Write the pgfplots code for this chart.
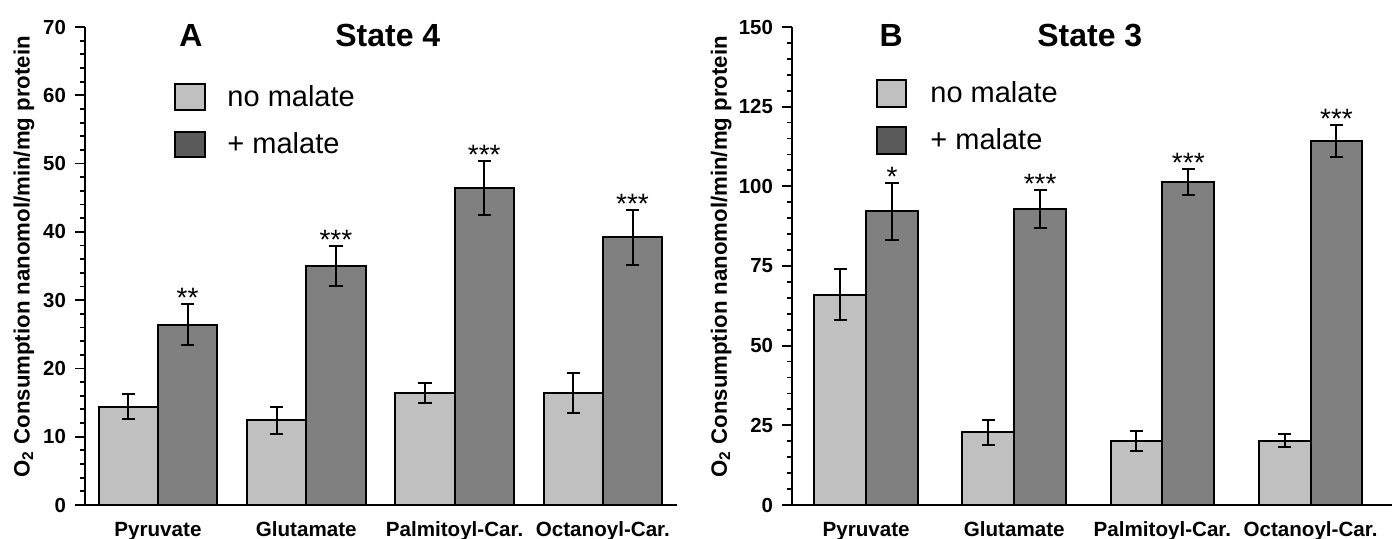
\documentclass[border=0pt]{standalone}
\usepackage{fontspec}
\setmainfont{Liberation Sans}
\usepackage{pgfplots}
\pgfplotsset{compat=1.18}
\definecolor{lightbar}{HTML}{C0C0C0}
\definecolor{darkbar}{HTML}{808080}
\definecolor{darkleg}{HTML}{5A5A5A}
\tikzset{starlbl/.style={anchor=base, font=\fontsize{14}{16}\selectfont, inner sep=0pt, yshift=-1.8pt}}
\pgfplotsset{
  panel/.style={
    scale only axis, height=239pt,
    axis x line=bottom, axis y line=left,
    axis line style={-, line width=1pt, black},
    ymin=0, clip=false,
    xtick={1,2,3,4},
    xticklabels={Pyruvate,Glutamate,Palmitoyl-Car.,Octanoyl-Car.},
    x tick style={draw=none},
    x tick label style={font=\fontsize{10.3}{12}\selectfont\bfseries, anchor=base, yshift=-11pt},
    y tick label style={font=\fontsize{10.2}{12}\selectfont\bfseries, xshift=-1pt},
    /pgf/number format/assume math mode=true,
    tick align=outside,
    major tick length=5pt, minor tick length=2.6pt,
    y tick style={line width=0.9pt, black},
    ylabel={O\textsubscript{2} Consumption nanomol/min/mg protein},
    ylabel style={font=\fontsize{11.1}{13}\selectfont\bfseries, anchor=center},
  },
  barbase/.style={ybar, bar shift=0pt, draw=black, line width=1pt,
    error bars/y dir=both, error bars/y explicit,
    error bars/error bar style={line width=1pt, black},
    error bars/error mark options={rotate=90, mark size=3.3pt, line width=1pt, black}},
}
\begin{document}
\begin{tikzpicture}
\path[use as bounding box] (-42.5pt,-17pt) rectangle (655pt,252.5pt);
% Panel A
\begin{axis}[panel, width=296pt, xmin=0.508, xmax=4.5,
  ymax=70, ytick={0,10,...,70}, minor y tick num=4,
  ylabel style={at={(axis description cs:-0.103,0.519)}}]
\addplot[barbase, fill=lightbar, bar width=0.4] coordinates {
  (0.8,14.4) +- (0,1.8)
  (1.8,12.4) +- (0,2.0)
  (2.8,16.4) +- (0,1.5)
  (3.8,16.4) +- (0,3.0)};
\addplot[barbase, fill=darkbar, bar width=0.4] coordinates {
  (1.2,26.4) +- (0,3.0)
  (2.2,35.0) +- (0,3.0)
  (3.2,46.4) +- (0,4.0)
  (4.2,39.2) +- (0,4.0)};
\node[starlbl] at (axis cs:1.2,29.4) {**};
\node[starlbl] at (axis cs:2.2,38.0) {***};
\node[starlbl] at (axis cs:3.2,50.4) {***};
\node[starlbl] at (axis cs:4.2,43.2) {***};
\node[anchor=base, font=\fontsize{16}{18}\selectfont\bfseries] at (axis cs:1.223,67.1) {A};
\node[anchor=base, font=\fontsize{16}{18}\selectfont\bfseries] at (axis cs:2.55,67.1) {State 4};
\draw[fill=lightbar, line width=0.9pt] (rel axis cs:0.152,0.826) rectangle (rel axis cs:0.203,0.881);
\draw[fill=darkleg, line width=0.9pt] (rel axis cs:0.152,0.728) rectangle (rel axis cs:0.203,0.780);
\node[anchor=base west, inner sep=0pt, font=\fontsize{14.5}{16}\selectfont] at (rel axis cs:0.240,0.833) {no malate};
\node[anchor=base west, inner sep=0pt, font=\fontsize{14.5}{16}\selectfont] at (rel axis cs:0.240,0.736) {+ malate};
\end{axis}
% Panel B
\begin{axis}[panel, xshift=353.5pt, width=300pt, xmin=0.5, xmax=4.55,
  ymax=150, ytick={0,25,...,150}, minor y tick num=4,
  ylabel style={at={(axis description cs:-0.118,0.519)}}]
\addplot[barbase, fill=lightbar, bar width=0.35] coordinates {
  (0.825,66.0) +- (0,8.0)
  (1.825,22.8) +- (0,4.0)
  (2.825,20.1) +- (0,3.1)
  (3.825,20.2) +- (0,2.0)};
\addplot[barbase, fill=darkbar, bar width=0.35] coordinates {
  (1.175,92.2) +- (0,9.0)
  (2.175,93.0) +- (0,6.0)
  (3.175,101.4) +- (0,4.0)
  (4.175,114.2) +- (0,5.0)};
\node[starlbl] at (axis cs:1.175,101.2) {*};
\node[starlbl] at (axis cs:2.175,99.0) {***};
\node[starlbl] at (axis cs:3.175,105.4) {***};
\node[starlbl] at (axis cs:4.175,119.2) {***};
\node[anchor=base, font=\fontsize{16}{18}\selectfont\bfseries] at (axis cs:1.169,143.8) {B};
\node[anchor=base, font=\fontsize{16}{18}\selectfont\bfseries] at (axis cs:2.51,143.8) {State 3};
\draw[fill=lightbar, line width=0.9pt] (rel axis cs:0.142,0.833) rectangle (rel axis cs:0.190,0.889);
\draw[fill=darkleg, line width=0.9pt] (rel axis cs:0.142,0.734) rectangle (rel axis cs:0.190,0.791);
\node[anchor=base west, inner sep=0pt, font=\fontsize{14.5}{16}\selectfont] at (rel axis cs:0.230,0.841) {no malate};
\node[anchor=base west, inner sep=0pt, font=\fontsize{14.5}{16}\selectfont] at (rel axis cs:0.230,0.743) {+ malate};
\end{axis}
\end{tikzpicture}
\end{document}
